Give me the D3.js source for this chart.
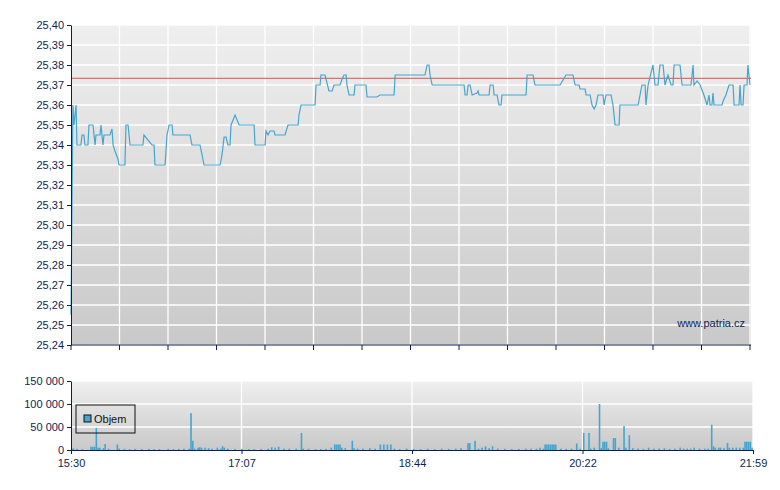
<!DOCTYPE html>
<html><head><meta charset="utf-8">
<script src="https://cdn.jsdelivr.net/npm/d3@7"></script>
<style>body{margin:0;background:#fff}text{font-family:"Liberation Sans",Arial,sans-serif}</style>
</head><body><svg id="c" width="780" height="490"></svg>
<script>
// minutes after 15:30, price
const priceData = [[0,25.255],[1.1,25.36],[1.7,25.35],[2.9,25.36],[3.4,25.34],[5.7,25.34],[6.3,25.345],[7.4,25.345],[8,25.34],[9.7,25.34],[10.3,25.35],[12.6,25.35],[13.8,25.34],[14.3,25.345],[16.6,25.345],[17.2,25.35],[18.3,25.34],[18.9,25.345],[22.3,25.345],[23.5,25.348],[24.1,25.34],[25.2,25.337],[26.9,25.333],[27.5,25.33],[30.9,25.33],[31.5,25.35],[32.7,25.35],[33.8,25.34],[41.2,25.34],[41.8,25.345],[46.4,25.34],[47.6,25.34],[48.1,25.33],[53.9,25.33],[55,25.345],[56.2,25.35],[57.9,25.35],[58.4,25.345],[68.2,25.345],[69.3,25.34],[73.9,25.34],[75.1,25.335],[76.2,25.33],[85.4,25.33],[86.5,25.335],[87.7,25.344],[88.8,25.344],[89.9,25.34],[91.1,25.34],[91.7,25.35],[94,25.355],[96.3,25.35],[104.9,25.35],[105.4,25.34],[111.2,25.34],[111.7,25.347],[112.9,25.345],[114,25.347],[116.3,25.347],[116.9,25.345],[122.6,25.345],[124.3,25.35],[130.1,25.35],[130.6,25.355],[131.8,25.36],[139.8,25.36],[140.4,25.37],[142.7,25.37],[143.2,25.375],[145.5,25.375],[147.8,25.367],[149.6,25.367],[150.7,25.37],[154.1,25.37],[155.3,25.373],[156.4,25.375],[157.6,25.375],[158.1,25.37],[159.3,25.365],[162.2,25.365],[162.7,25.37],[169,25.37],[169.6,25.364],[175.3,25.364],[177,25.365],[185.1,25.365],[185.7,25.375],[202.8,25.375],[204,25.38],[205.1,25.38],[205.7,25.375],[206.9,25.37],[225.2,25.37],[225.8,25.365],[226.9,25.365],[227.5,25.37],[228.6,25.37],[229.8,25.365],[232.6,25.366],[233.2,25.367],[233.8,25.365],[239.5,25.365],[240.1,25.37],[241.8,25.37],[242.4,25.365],[244.1,25.365],[245.2,25.36],[246.4,25.36],[246.9,25.365],[260.7,25.365],[261.3,25.375],[264.7,25.375],[265.8,25.37],[280.2,25.37],[283.6,25.375],[287.6,25.375],[288.8,25.37],[291.1,25.37],[291.6,25.368],[294.5,25.368],[295.1,25.365],[297.4,25.365],[298.5,25.36],[299.7,25.358],[300.8,25.36],[301.9,25.365],[304.8,25.365],[305.4,25.36],[306.5,25.365],[309.4,25.365],[310.5,25.36],[311.7,25.35],[314,25.35],[314.5,25.36],[324.9,25.36],[327.1,25.37],[328.9,25.37],[329.4,25.36],[330.6,25.37],[333.4,25.38],[334.6,25.37],[336.3,25.37],[337.4,25.38],[339.2,25.38],[340.3,25.37],[342,25.375],[343.8,25.37],[344.9,25.37],[345.5,25.38],[348.9,25.38],[350.1,25.37],[355.2,25.37],[356.4,25.38],[356.9,25.37],[358.7,25.372],[360.4,25.37],[362.6,25.365],[364.4,25.36],[365.5,25.365],[366.1,25.36],[367.2,25.36],[367.8,25.366],[368.4,25.36],[373,25.36],[373.6,25.362],[375.2,25.365],[377,25.37],[379.3,25.37],[379.9,25.36],[382.7,25.36],[383.3,25.37],[383.9,25.36],[385,25.36],[385.6,25.37],[387.3,25.37],[387.8,25.38],[389,25.37]];
const refPrice = 25.3733;
const priceTicks = d3.range(25.24, 25.4001, 0.01);
const timeLabels = ["15:30","17:07","18:44","20:22","21:59"];
// minutes after 15:30, volume
const volData = [[0,4000],[1,3000],[3,2500],[6,2000],[11,7000],[12,7000],[13,7000],[14,48000],[15,5000],[16,5000],[18,4000],[19,13000],[21,3000],[26,12000],[27,3000],[30,2500],[33,2000],[36,2500],[40,2000],[44,2500],[47,2000],[50,2000],[55,2500],[58,2000],[61,2500],[64,3000],[67,3000],[68,80000],[69,20000],[70,3000],[72,5000],[73,6000],[74,5000],[76,5000],[78,4000],[80,3000],[83,5000],[85,3000],[86,8000],[87,5000],[89,3000],[93,2000],[97,2500],[101,2000],[104,2000],[108,2000],[112,3000],[114,6000],[116,5000],[118,7000],[121,3000],[124,3000],[128,3000],[131,37000],[132,3000],[135,2500],[139,2000],[142,2000],[145,2500],[148,5000],[150,12000],[151,12000],[152,12000],[153,12000],[154,5000],[156,4000],[160,20000],[161,4000],[163,3000],[166,3000],[170,4000],[173,3000],[176,12000],[178,12000],[180,12000],[182,12000],[184,3000],[187,2000],[191,3000],[195,2500],[199,2000],[203,2500],[207,2000],[211,3000],[215,2500],[219,3000],[222,4000],[226,15000],[227,15000],[230,20000],[232,3000],[234,5000],[236,8000],[238,4000],[240,8000],[243,3000],[247,2500],[251,2000],[255,2500],[259,3000],[262,3000],[265,3000],[267,5000],[269,3000],[270,12000],[271,12000],[272,12000],[273,12000],[274,12000],[275,12000],[276,12000],[279,3000],[282,2500],[285,3000],[288,14000],[290,3000],[292,37000],[295,37000],[296,3000],[298,5000],[301,100000],[302,4000],[303,18000],[304,18000],[305,18000],[306,4000],[309,26000],[310,26000],[312,5000],[315,52000],[316,5000],[318,32000],[320,4000],[323,3000],[326,2500],[329,5000],[332,3000],[335,3000],[338,4000],[341,2500],[344,3000],[347,5000],[349,3000],[351,3000],[353,3000],[355,5000],[358,3000],[361,3000],[363,3000],[365,55000],[366,8000],[367,5000],[369,5000],[370,5000],[372,4000],[374,15000],[375,5000],[377,5000],[379,5000],[381,5000],[383,5000],[384,18000],[385,18000],[386,18000],[387,18000],[388,5000]];
const volTicks = [0, 50000, 100000, 150000];

const svg = d3.select("#c");
const navy = "#0b1f55";
const defs = svg.append("defs");
const grad = defs.append("linearGradient").attr("id", "bg").attr("x1", 0).attr("x2", 0).attr("y1", 0).attr("y2", 1);
grad.append("stop").attr("offset", 0).attr("stop-color", "#efefef");
grad.append("stop").attr("offset", 1).attr("stop-color", "#c9c9c9");

// ---- price panel ----
const pL = 71, pR = 751, pT = 25, pB = 345;
const x = d3.scaleLinear().domain([0, 389]).range([pL, pR - 1]);
const y = d3.scaleLinear().domain([25.24, 25.40]).range([pB, pT]);

svg.append("rect").attr("x", pL).attr("y", pT).attr("width", pR - pL).attr("height", pB - pT).attr("fill", "url(#bg)");
const g = svg.append("g");
priceTicks.forEach((t) => {
  g.append("line").attr("x1", pL).attr("x2", pR).attr("y1", y(t)).attr("y2", y(t)).attr("stroke", "#fff").attr("stroke-width", 1.3);
});
const vx = d3.scaleLinear().domain([0, 14]).range([pL, pR - 1]);
d3.range(0, 15).forEach((i) => {
  g.append("line").attr("x1", vx(i)).attr("x2", vx(i)).attr("y1", pT).attr("y2", pB).attr("stroke", "#fff").attr("stroke-width", 1.3);
  g.append("line").attr("x1", vx(i)).attr("x2", vx(i)).attr("y1", pB).attr("y2", pB + 5).attr("stroke", navy);
});

svg.append("line").attr("x1", pL).attr("x2", pR).attr("y1", y(refPrice)).attr("y2", y(refPrice)).attr("stroke", "#e05a5a").attr("stroke-width", 1.4).attr("opacity", 0.85);

svg.append("path").datum(priceData)
  .attr("d", d3.line().x((d) => x(d[0])).y((d) => y(d[1])))
  .attr("fill", "none").attr("stroke", "#45a5cf").attr("stroke-width", 1.2);

svg.append("g").attr("transform", `translate(${pL},0)`)
  .call(d3.axisLeft(y).tickValues(priceTicks).tickSize(4).tickSizeOuter(0)
    .tickFormat((d) => d3.format(".2f")(d).replace(".", ",")));
svg.append("line").attr("x1", pL).attr("x2", pR).attr("y1", pB).attr("y2", pB).attr("stroke", navy);

svg.append("text").attr("x", 745).attr("y", 327).attr("text-anchor", "end")
  .attr("font-size", 11).attr("fill", navy).text("www.patria.cz");

// ---- volume panel ----
const vL = 71, vR = 753, vT = 381, vB = 450;
const xv = d3.scaleLinear().domain([0, 389]).range([vL, vR]);
const yv = d3.scaleLinear().domain([0, 150000]).range([vB, vT]);
svg.append("rect").attr("x", vL).attr("y", vT).attr("width", vR - vL).attr("height", vB - vT).attr("fill", "url(#bg)");
volTicks.slice(1).forEach((t) => {
  svg.append("line").attr("x1", vL).attr("x2", vR).attr("y1", yv(t)).attr("y2", yv(t)).attr("stroke", "#fff").attr("stroke-width", 1.3);
});
const timeTicks = [0, 97.25, 194.5, 291.75, 389];
timeTicks.forEach((t) => {
  svg.append("line").attr("x1", xv(t)).attr("x2", xv(t)).attr("y1", vT).attr("y2", vB).attr("stroke", "#fff").attr("stroke-width", 1.3);
});
svg.append("g").selectAll("rect").data(volData).join("rect")
  .attr("x", (d) => xv(d[0]))
  .attr("width", 1.6)
  .attr("y", (d) => yv(d[1]))
  .attr("height", (d) => vB - yv(d[1]))
  .attr("fill", "#45a5cf");

svg.append("g").attr("transform", `translate(${vL},0)`)
  .call(d3.axisLeft(yv).tickValues(volTicks).tickSize(4).tickSizeOuter(0)
    .tickFormat((d) => d3.format(",")(d).replace(/,/g, " ")))
  .selectAll(".tick text").attr("dy", "0.28em");
svg.append("g").attr("transform", `translate(0,${vB})`)
  .call(d3.axisBottom(xv).tickValues(timeTicks).tickSize(4).tickSizeOuter(0)
    .tickFormat((d, i) => timeLabels[i]))
  .selectAll(".tick text").attr("dy", "0.95em");

// legend
const lg = svg.append("g").attr("transform", "translate(76,405)");
lg.append("rect").attr("width", 59).attr("height", 28).attr("fill", "none").attr("stroke", "#111");
lg.append("rect").attr("x", 8).attr("y", 10).attr("width", 7).attr("height", 7).attr("fill", "#45a5cf").attr("stroke", "#111");
lg.append("text").attr("x", 18).attr("y", 18).attr("font-size", 11).attr("fill", "#111").text("Objem");

svg.selectAll(".domain").attr("stroke", navy);
svg.selectAll(".tick line").attr("stroke", navy);
svg.selectAll(".tick text").attr("fill", navy).attr("font-size", 11);
</script></body></html>
